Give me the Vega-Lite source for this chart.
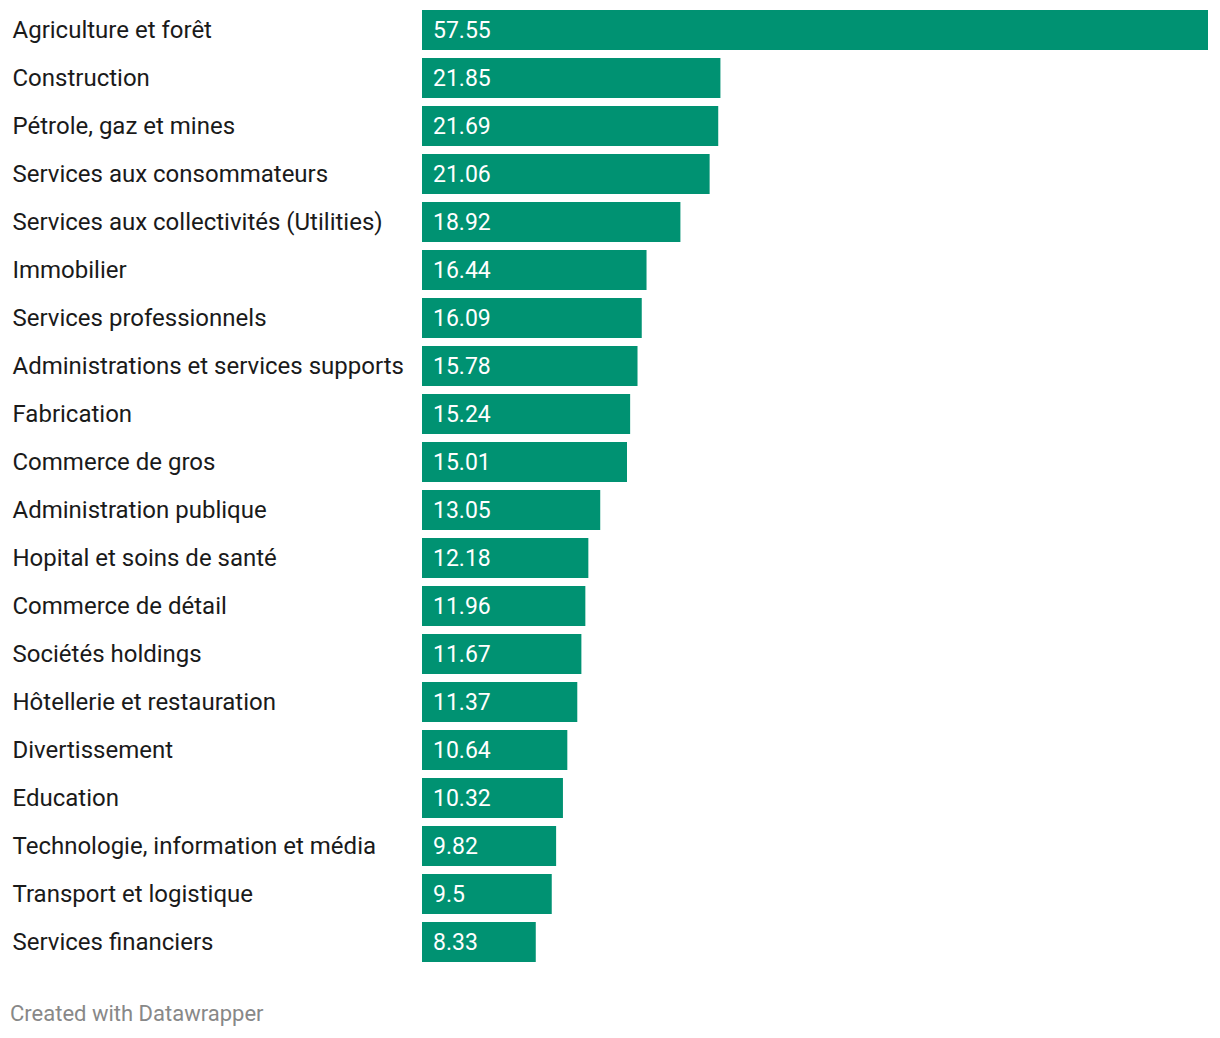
{
  "$schema": "https://vega.github.io/schema/vega-lite/v6.json",
  "width": 786,
  "height": 960,
  "autosize": {"type": "none"},
  "padding": {"left": 422, "top": 6, "right": 12, "bottom": 72},
  "background": "white",
  "config": {"view": {"stroke": null}, "font": "Roboto"},
  "title": {
    "text": "Created with Datawrapper",
    "orient": "bottom",
    "anchor": "start",
    "frame": "group",
    "dx": -412,
    "offset": 38,
    "fontSize": 22,
    "fontWeight": "normal",
    "font": "Roboto",
    "color": "#888888",
    "baseline": "top"
  },
  "data": {
    "values": [
      {"secteur": "Agriculture et forêt", "valeur": 57.55},
      {"secteur": "Construction", "valeur": 21.85},
      {"secteur": "Pétrole, gaz et mines", "valeur": 21.69},
      {"secteur": "Services aux consommateurs", "valeur": 21.06},
      {"secteur": "Services aux collectivités (Utilities)", "valeur": 18.92},
      {"secteur": "Immobilier", "valeur": 16.44},
      {"secteur": "Services professionnels", "valeur": 16.09},
      {"secteur": "Administrations et services supports", "valeur": 15.78},
      {"secteur": "Fabrication", "valeur": 15.24},
      {"secteur": "Commerce de gros", "valeur": 15.01},
      {"secteur": "Administration publique", "valeur": 13.05},
      {"secteur": "Hopital et soins de santé", "valeur": 12.18},
      {"secteur": "Commerce de détail", "valeur": 11.96},
      {"secteur": "Sociétés holdings", "valeur": 11.67},
      {"secteur": "Hôtellerie et restauration", "valeur": 11.37},
      {"secteur": "Divertissement", "valeur": 10.64},
      {"secteur": "Education", "valeur": 10.32},
      {"secteur": "Technologie, information et média", "valeur": 9.82},
      {"secteur": "Transport et logistique", "valeur": 9.5},
      {"secteur": "Services financiers", "valeur": 8.33}
    ]
  },
  "encoding": {
    "y": {
      "field": "secteur",
      "type": "nominal",
      "sort": null,
      "scale": {"paddingInner": 0.1667, "paddingOuter": 0.0833},
      "axis": {
        "title": null,
        "domain": false,
        "ticks": false,
        "labelAlign": "left",
        "labelPadding": 410,
        "labelOffset": 1,
        "labelLimit": 600,
        "labelFontSize": 24,
        "labelFont": "Roboto",
        "labelColor": "#1a1a1a"
      }
    }
  },
  "layer": [
    {
      "mark": {"type": "bar", "color": "#009272"},
      "encoding": {
        "x": {"field": "valeur", "type": "quantitative", "scale": {"domain": [0, 57.55], "nice": false}, "axis": null}
      }
    },
    {
      "mark": {"type": "text", "align": "left", "baseline": "middle", "dx": 11, "dy": 1, "fontSize": 23, "font": "Roboto", "color": "white"},
      "encoding": {
        "x": {"datum": 0, "type": "quantitative"},
        "text": {"field": "valeur", "type": "quantitative"}
      }
    }
  ]
}
